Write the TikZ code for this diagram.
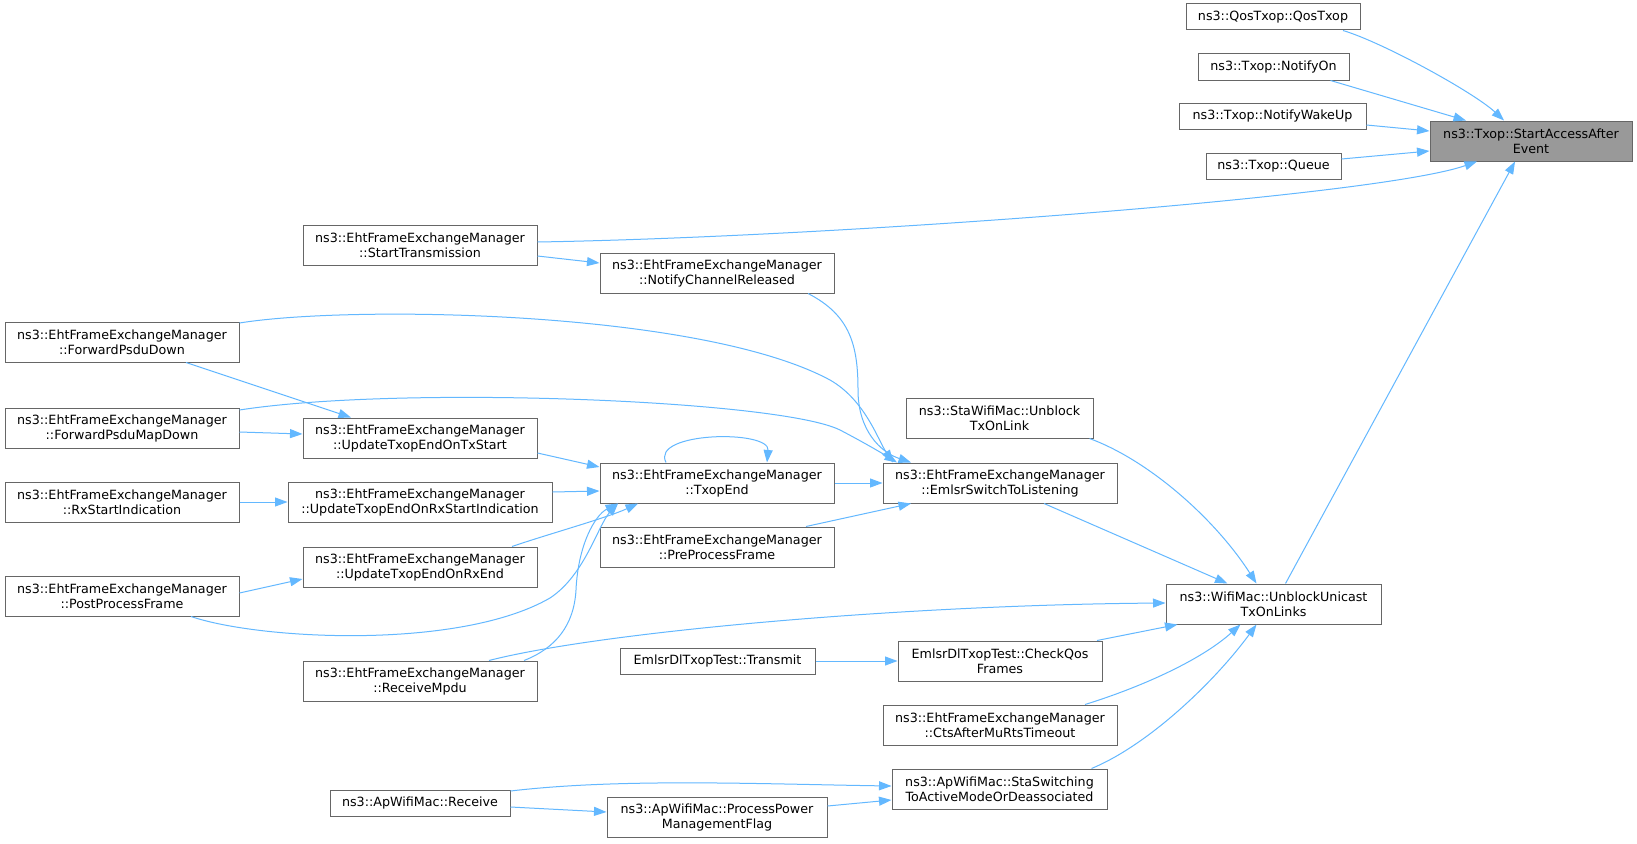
\documentclass[tikz,border=0pt]{standalone}
\usepackage{fontspec}
\setmainfont{DejaVu Sans}
\usetikzlibrary{arrows.meta,calc}
\definecolor{edgeblue}{HTML}{63B8FF}
\definecolor{boxline}{HTML}{666666}
\definecolor{focusfill}{HTML}{999999}
\tikzset{
  fn/.style={draw=boxline, line width=1pt, fill=white, inner sep=0pt, align=center,
    minimum height=40pt, font=\fontsize{12.7pt}{15pt}\selectfont},
  fn1/.style={fn, minimum height=26pt},
  focus/.style={fn, fill=focusfill},
  call/.style={draw=edgeblue, line width=1pt, -{Triangle[length=12.5pt,width=9pt]}}
}
\begin{document}
\begin{tikzpicture}[x=1pt,y=-1pt]
\fill[white] (0,0) rectangle (1637,843);
\useasboundingbox (0,0) rectangle (1637,843);
% nodes
\node[fn1, minimum width=174pt] (n1) at (1273,17) {ns3::QosTxop::QosTxop};
\node[fn1, minimum width=151pt] (n2) at (1273.5,67) {ns3::Txop::NotifyOn};
\node[fn1, minimum width=187pt] (n3) at (1272.5,116) {ns3::Txop::NotifyWakeUp};
\node[fn1, minimum width=135pt] (n4) at (1273.5,166) {ns3::Txop::Queue};
\node[focus, minimum width=202pt] (n5) at (1531,141) {ns3::Txop::StartAccessAfter\\Event};
\node[fn, minimum width=234pt] (n6) at (420,245) {ns3::EhtFrameExchangeManager\\::StartTransmission};
\node[fn, minimum width=234pt] (n7) at (717,273) {ns3::EhtFrameExchangeManager\\::NotifyChannelReleased};
\node[fn, minimum width=234pt] (n8) at (122,342) {ns3::EhtFrameExchangeManager\\::ForwardPsduDown};
\node[fn, minimum width=234pt] (n9) at (122,428) {ns3::EhtFrameExchangeManager\\::ForwardPsduMapDown};
\node[fn, minimum width=234pt] (n10) at (420,438) {ns3::EhtFrameExchangeManager\\::UpdateTxopEndOnTxStart};
\node[fn, minimum width=187pt] (n11) at (999.5,418) {ns3::StaWifiMac::Unblock\\TxOnLink};
\node[fn, minimum width=234pt] (n12) at (717,483) {ns3::EhtFrameExchangeManager\\::TxopEnd};
\node[fn, minimum width=234pt] (n13) at (1000,483) {ns3::EhtFrameExchangeManager\\::EmlsrSwitchToListening};
\node[fn, minimum width=234pt] (n14) at (122,502) {ns3::EhtFrameExchangeManager\\::RxStartIndication};
\node[fn, minimum width=264pt] (n15) at (420,502) {ns3::EhtFrameExchangeManager\\::UpdateTxopEndOnRxStartIndication};
\node[fn, minimum width=234pt] (n16) at (717,547) {ns3::EhtFrameExchangeManager\\::PreProcessFrame};
\node[fn, minimum width=234pt] (n17) at (420,567) {ns3::EhtFrameExchangeManager\\::UpdateTxopEndOnRxEnd};
\node[fn, minimum width=215pt] (n18) at (1273.5,604) {ns3::WifiMac::UnblockUnicast\\TxOnLinks};
\node[fn, minimum width=234pt] (n19) at (122,596) {ns3::EhtFrameExchangeManager\\::PostProcessFrame};
\node[fn1, minimum width=195pt] (n20) at (717.5,661) {EmlsrDlTxopTest::Transmit};
\node[fn, minimum width=204pt] (n21) at (1000,661) {EmlsrDlTxopTest::CheckQos\\Frames};
\node[fn, minimum width=234pt] (n22) at (420,681) {ns3::EhtFrameExchangeManager\\::ReceiveMpdu};
\node[fn, minimum width=234pt] (n23) at (1000,725) {ns3::EhtFrameExchangeManager\\::CtsAfterMuRtsTimeout};
\node[fn, minimum width=215pt] (n24) at (999.5,789) {ns3::ApWifiMac::StaSwitching\\ToActiveModeOrDeassociated};
\node[fn1, minimum width=180pt] (n25) at (420,803) {ns3::ApWifiMac::Receive};
\node[fn, minimum width=220pt] (n26) at (717,817) {ns3::ApWifiMac::ProcessPower\\ManagementFlag};
% edges into StartAccessAfterEvent
\draw[call] ($(n1.south)+(70,0)$) .. controls +(40,12) and +(-30,-28) .. ($(n5.north)+(-27,0)$);
\draw[call] ($(n2.south)+(57,0)$) -- ($(n5.north)+(-65,0)$);
\draw[call] ($(n3.east)+(0,9)$) -- ($(n5.west)+(0,-10)$);
\draw[call] ($(n4.east)+(0,-7)$) -- ($(n5.west)+(0,10)$);
\draw[call] ($(n6.east)+(0,-3)$) .. controls +(300,-5) and +(-100,35) .. ($(n5.south)+(-54,0)$);
\draw[call] ($(n18.north)+(12,0)$) -- ($(n5.south)+(-16,0)$);
% StartTransmission to NotifyChannelReleased
\draw[call] ($(n6.east)+(0,11)$) -- ($(n7.west)+(0,-10)$);
% into EmlsrSwitchToListening
\draw[call] ($(n8.east)+(0,-19)$) .. controls (350,305) and (700,310) .. (830,380) .. controls (865,400) and (878,440) .. ($(n13.north)+(-107,0)$);
\draw[call] ($(n9.east)+(0,-18)$) .. controls (400,385) and (780,400) .. (840,430) .. controls (865,443) and (885,455) .. ($(n13.north)+(-103,0)$);
\draw[call] ($(n7.south)+(91,0)$) .. controls (850,315) and (858,345) .. (858,390) .. controls (858,430) and (880,452) .. ($(n13.north)+(-89,0)$);
\draw[call] (n12.east) -- (n13.west);
\draw[call] ($(n16.north)+(89,0)$) -- ($(n13.south)+(-89,0)$);
% into UpdateTxopEndOnTxStart
\draw[call] ($(n8.south)+(64,0)$) -- ($(n10.north)+(-69,0)$);
\draw[call] ($(n9.east)+(0,4)$) -- ($(n10.west)+(0,-4)$);
% into TxopEnd
\draw[call] ($(n10.east)+(0,15)$) -- ($(n12.west)+(0,-16)$);
\draw[call] ($(n12.north)+(-51,0)$) .. controls +(-16,-31) and +(3,-33) .. ($(n12.north)+(50,0)$);
\draw[call] ($(n15.east)+(0,-10)$) -- ($(n12.west)+(0,8)$);
\draw[call] ($(n17.north)+(92,0)$) .. controls +(35,-12) and +(-30,14) .. ($(n12.south)+(-79,0)$);
\draw[call] ($(n19.south)+(69,0)$) .. controls (260,640) and (460,650) .. (550,598) .. controls (585,575) and (598,525) .. ($(n12.south)+(-99,0)$);
\draw[call] ($(n22.north)+(104,0)$) .. controls (556,648) and (574,625) .. (576,590) .. controls (578,545) and (595,515) .. ($(n12.south)+(-99,0)$);
% left column
\draw[call] (n14.east) -- (n15.west);
\draw[call] ($(n19.east)+(0,-3)$) -- ($(n17.west)+(0,12)$);
% into UnblockUnicastTxOnLinks
\draw[call] ($(n22.north)+(69,0)$) .. controls (600,632) and (900,605) .. ($(n18.west)+(0,-1)$);
\draw[call] ($(n13.south)+(44,0)$) -- ($(n18.north)+(-46,0)$);
\draw[call] ($(n11.south)+(90,0)$) .. controls +(60,22) and +(-41,-64) .. ($(n18.north)+(-17,0)$);
\draw[call] ($(n21.north)+(97,0)$) -- ($(n18.south)+(-96,0)$);
\draw[call] ($(n23.north)+(85,0)$) .. controls +(55,-17) and +(-40,36) .. ($(n18.south)+(-33,0)$);
\draw[call] ($(n24.north)+(92,0)$) .. controls +(58,-24) and +(-41,56) .. ($(n18.south)+(-17,0)$);
% bottom
\draw[call] (n20.east) -- (n21.west);
\draw[call] ($(n25.east)+(0,-12)$) .. controls +(110,-13) and +(-132,-2) .. ($(n24.west)+(0,-3)$);
\draw[call] ($(n25.east)+(0,4)$) -- ($(n26.west)+(0,-5)$);
\draw[call] ($(n26.east)+(0,-11)$) -- ($(n24.west)+(0,11)$);
\end{tikzpicture}
\end{document}
